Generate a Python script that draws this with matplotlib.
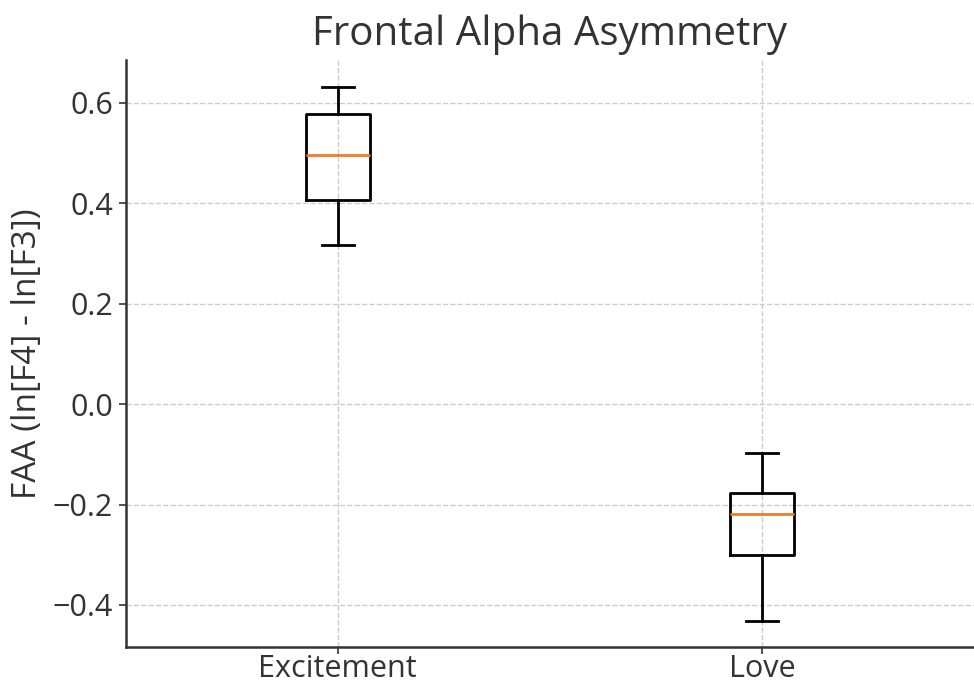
import matplotlib
matplotlib.use("Agg")
import matplotlib.pyplot as plt

categories = ["Excitement", "Love"]
whislo = [0.317, -0.432]
q1 = [0.407, -0.301]
med = [0.496, -0.219]
q3 = [0.577, -0.176]
whishi = [0.631, -0.097]

plt.rcParams['font.family'] = ['Open Sans', 'DejaVu Sans']
text_color = '#333333'

fig = plt.figure(figsize=(9.74, 6.85), dpi=100)
# axes: left 126 px, right ~975 px, top 60 px, bottom ~647 px
ax = fig.add_axes([0.129, 0.056, 0.871, 0.856])

stats = []
for i, c in enumerate(categories):
    stats.append(dict(label=c, whislo=whislo[i], q1=q1[i], med=med[i],
                      q3=q3[i], whishi=whishi[i], fliers=[]))

ax.bxp(stats, positions=[1, 2], widths=0.15, showfliers=False,
       boxprops=dict(color='black', linewidth=2),
       whiskerprops=dict(color='black', linewidth=2),
       capprops=dict(color='black', linewidth=2),
       medianprops=dict(color='#f07a2a', linewidth=2))

ax.set_xlim(0.5, 2.5)
ax.set_ylim(-0.483, 0.685)
ax.set_yticks([-0.4, -0.2, 0.0, 0.2, 0.4, 0.6])
ax.grid(True, linestyle='--', color='#cccccc', linewidth=1)
ax.set_axisbelow(True)
ax.spines['top'].set_visible(False)
ax.spines['right'].set_visible(False)
for s in ['left', 'bottom']:
    ax.spines[s].set_linewidth(1.8)
    ax.spines[s].set_color('#333333')
ax.tick_params(axis='both', labelsize=22, colors=text_color, length=5, width=1.2, pad=4)
ax.tick_params(axis='x', pad=0.5)
ax.set_ylabel('FAA (ln[F4] - ln[F3])', fontsize=24, color=text_color, labelpad=6)
ax.set_title('Frontal Alpha Asymmetry', fontsize=29, color=text_color, pad=11)

fig.savefig('out.png', dpi=100)
